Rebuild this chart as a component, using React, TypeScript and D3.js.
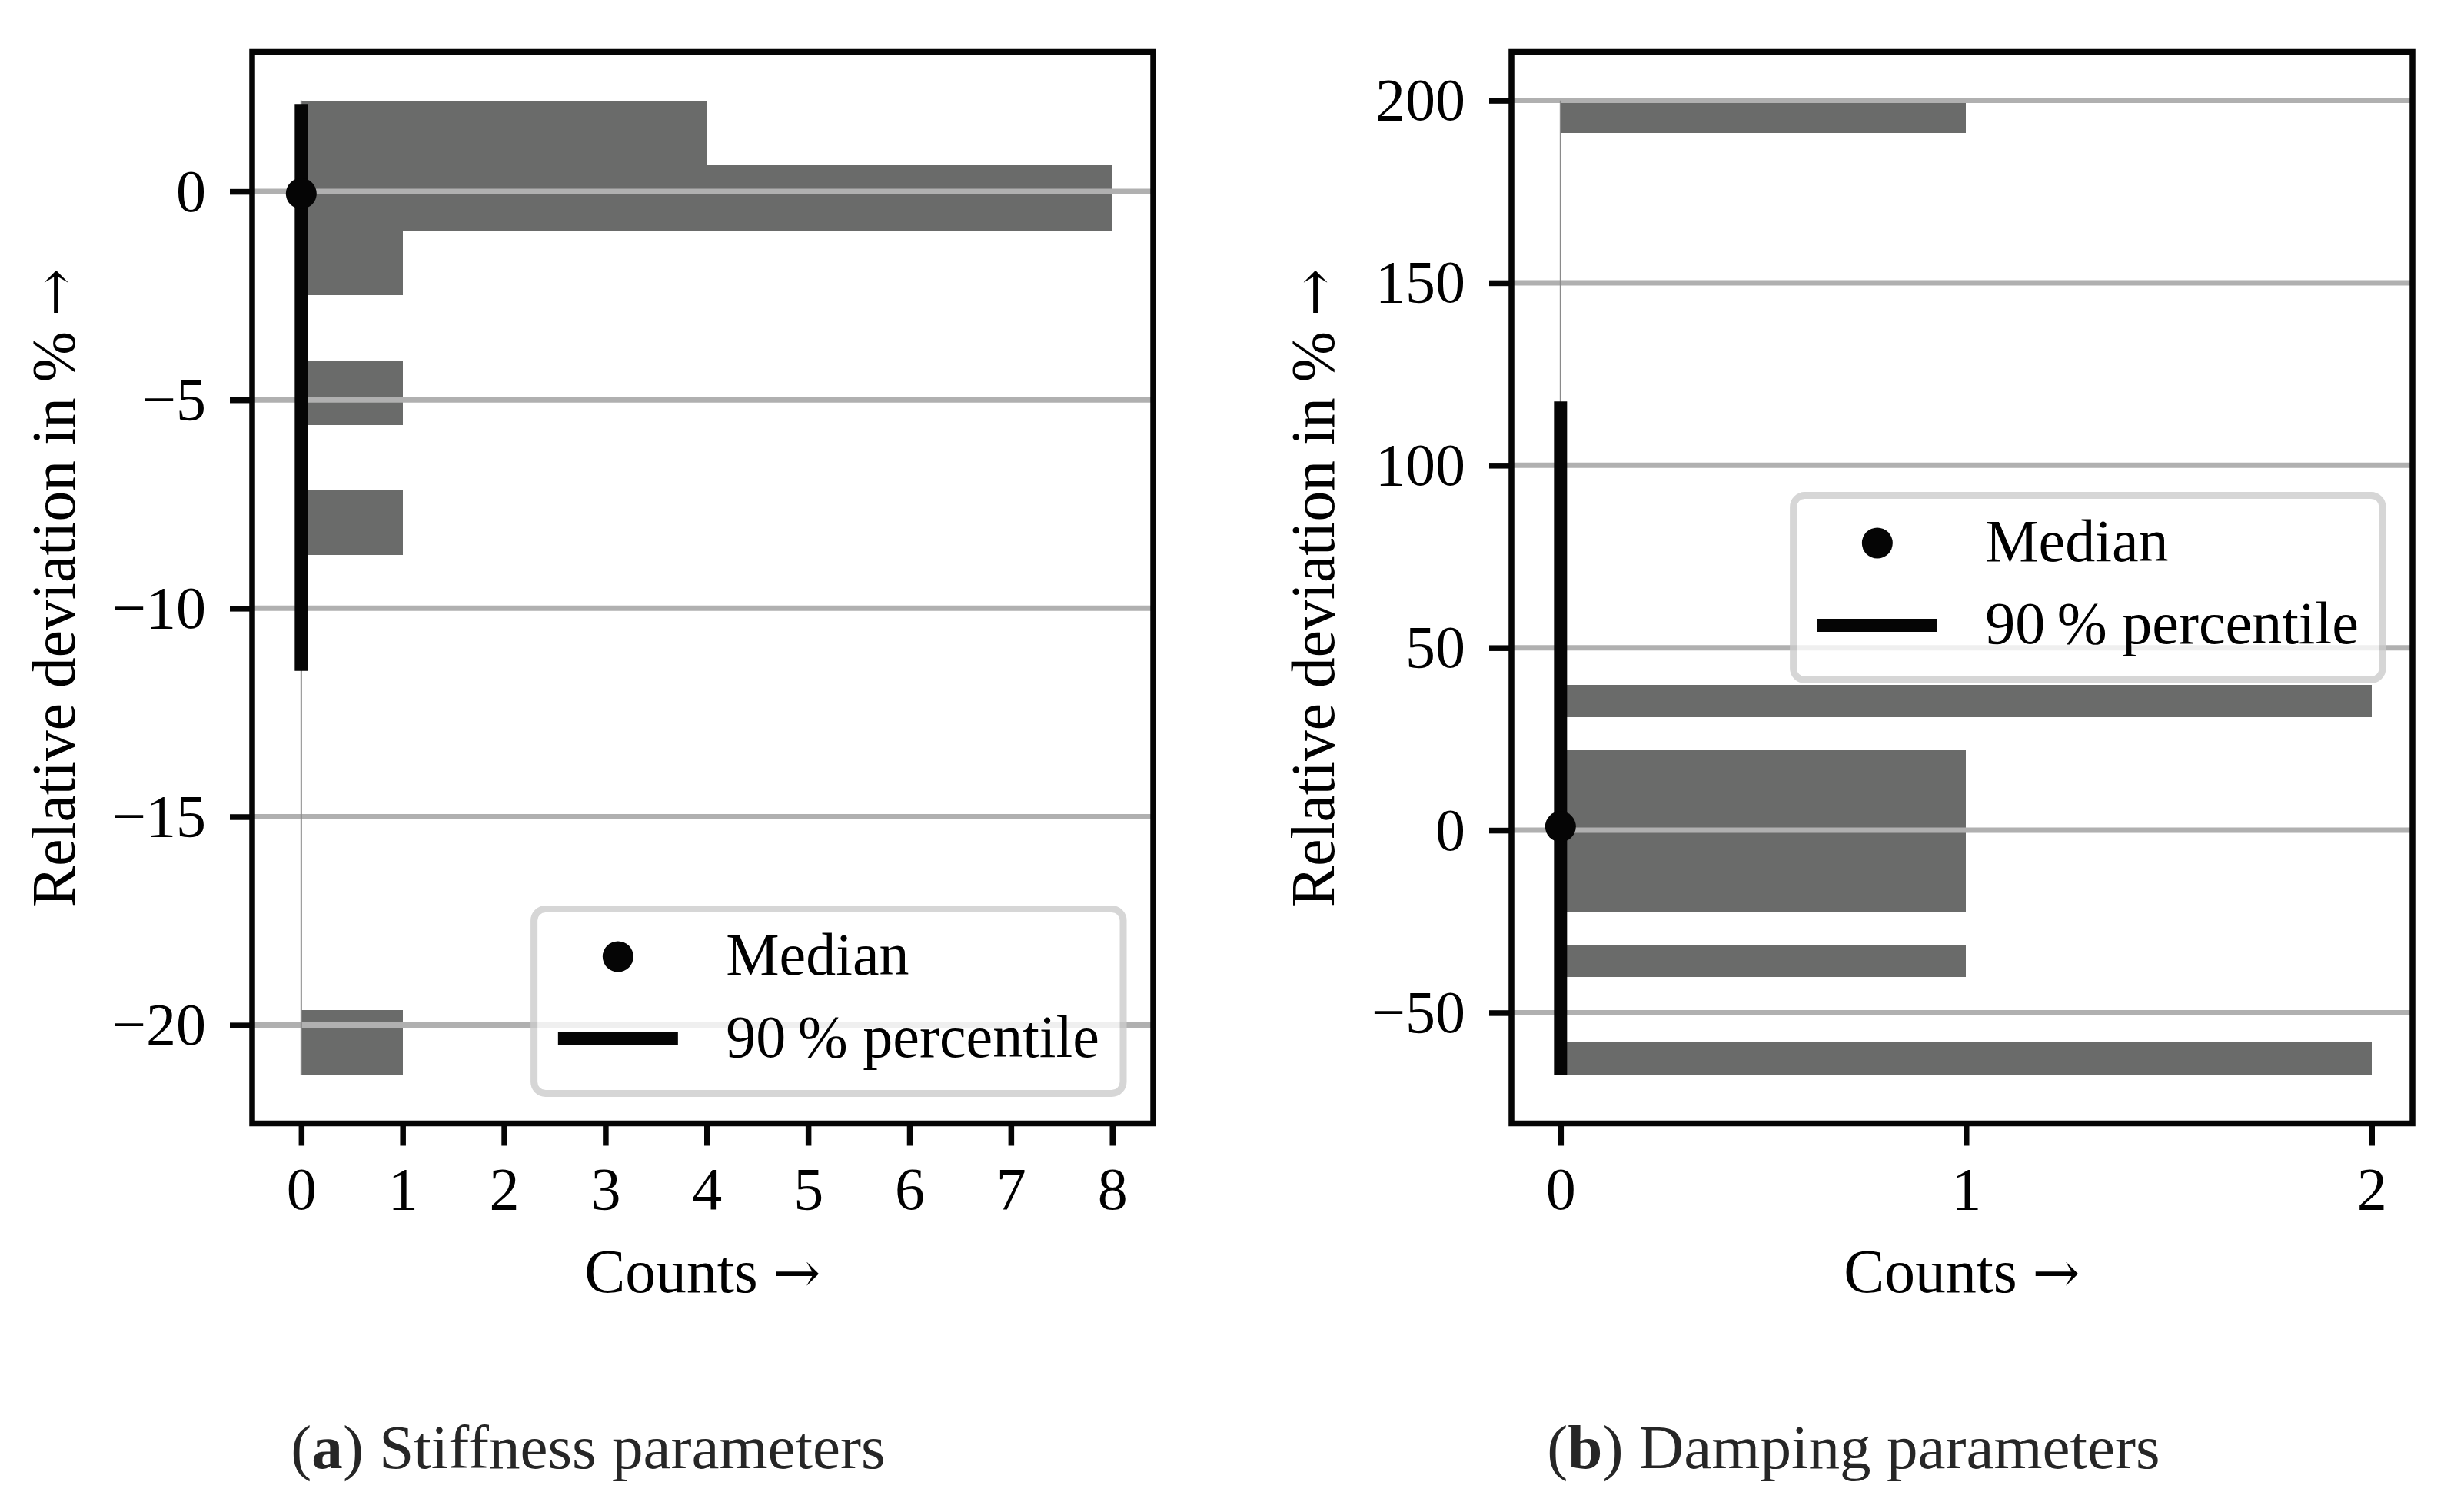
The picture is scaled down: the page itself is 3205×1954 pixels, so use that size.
import { useEffect, useRef } from 'react';
import * as d3 from 'd3';

const W = 3205;
const H = 1954;
const FONT = "'Liberation Serif', 'Times New Roman', serif";
const ARROW_FONT = "'DejaVu Serif', serif";
const FS = 78;

// (a) stiffness parameters: histogram bin edges (relative deviation in %) and counts
const STIFF_EDGES = [-21.19, -19.63, -18.07, -16.52, -14.96, -13.40, -11.84, -10.28, -8.72, -7.17, -5.61, -4.05, -2.49, -0.94, 0.62, 2.18];
const STIFF_COUNTS = [1, 0, 0, 0, 0, 0, 0, 0, 1, 0, 1, 0, 1, 8, 4];
const STIFF_MEDIAN = -0.05;
const STIFF_PERCENTILE = [-11.5, 2.1];
const STIFF_RANGE = [-21.19, 2.18];
const STIFF_X_TICKS = [0, 1, 2, 3, 4, 5, 6, 7, 8];
const STIFF_Y_TICKS = [-20, -15, -10, -5, 0];

// (b) damping parameters
const DAMP_EDGES = [
  -67.0, -58.10, -49.20, -40.31, -31.41, -22.51, -13.61, -4.71, 4.18, 13.08, 21.98,
  30.88, 39.78, 48.67, 57.57, 66.47, 75.37, 84.27, 93.16, 102.06, 110.96,
  119.86, 128.76, 137.65, 146.55, 155.45, 164.35, 173.25, 182.14, 191.04, 199.94,
];
const DAMP_COUNTS = [2, 0, 0, 1, 0, 1, 1, 1, 1, 1, 0, 2, 0, 0, 0, 0, 0, 0, 0, 0, 0, 0, 0, 0, 0, 0, 0, 0, 0, 1];
const DAMP_MEDIAN = 1.0;
const DAMP_PERCENTILE = [-67.0, 117.5];
const DAMP_RANGE = [-67.0, 199.94];
const DAMP_X_TICKS = [0, 1, 2];
const DAMP_Y_TICKS = [-50, 0, 50, 100, 150, 200];

const LEGEND_LABELS = ['Median', '90\u2009% percentile'];

interface Panel {
  edges: number[];
  counts: number[];
  median: number;
  percentile: number[];
  range: number[];
  xTicks: number[];
  yTicks: number[];
  left: number;
  right: number;
  legendPos: 'lower right' | 'center right';
  caption: [string, string];
  captionX: number;
}

const TOP = 67.5;
const BOTTOM = 1461.5;

const PANELS: Panel[] = [
  {
    edges: STIFF_EDGES, counts: STIFF_COUNTS, median: STIFF_MEDIAN, percentile: STIFF_PERCENTILE,
    range: STIFF_RANGE, xTicks: STIFF_X_TICKS, yTicks: STIFF_Y_TICKS,
    left: 328, right: 1500, legendPos: 'lower right', caption: ['a', 'Stiffness parameters'], captionX: 765,
  },
  {
    edges: DAMP_EDGES, counts: DAMP_COUNTS, median: DAMP_MEDIAN, percentile: DAMP_PERCENTILE,
    range: DAMP_RANGE, xTicks: DAMP_X_TICKS, yTicks: DAMP_Y_TICKS,
    left: 1966, right: 3138, legendPos: 'center right', caption: ['b', 'Damping parameters'], captionX: 2411,
  },
];

// label text followed by a wider math-style arrow
function arrowLabel(t: d3.Selection<SVGTextElement, unknown, null, undefined>, label: string) {
  t.append('tspan').text(`${label} `);
  t.append('tspan').attr('font-family', ARROW_FONT).attr('font-size', FS * 0.95).text('\u2192');
}

function drawPanel(svg: d3.Selection<SVGSVGElement, unknown, null, undefined>, p: Panel) {
  const maxC = d3.max(p.counts) ?? 1;
  const xLo = -0.01 * maxC;
  const xPad = 0.05 * (maxC - xLo);
  const yLo = p.edges[0];
  const yHi = p.edges[p.edges.length - 1];
  const yPad = 0.05 * (yHi - yLo);

  const x = d3.scaleLinear().domain([xLo - xPad, maxC + xPad]).range([p.left, p.right]);
  const y = d3.scaleLinear().domain([yLo - yPad, yHi + yPad]).range([BOTTOM, TOP]);

  const g = svg.append('g');

  const bins = p.counts
    .map((c, i) => ({ lo: p.edges[i], hi: p.edges[i + 1], c }))
    .filter((b) => b.c > 0);

  g.selectAll('rect.bar').data(bins).join('rect')
    .attr('class', 'bar')
    .attr('x', x(0))
    .attr('width', (d) => x(d.c) - x(0))
    .attr('y', (d) => y(d.hi))
    .attr('height', (d) => y(d.lo) - y(d.hi))
    .attr('fill', '#6a6b6a')
    .attr('shape-rendering', 'crispEdges');

  // grid sits on top of the bars
  g.selectAll('line.grid').data(p.yTicks).join('line')
    .attr('class', 'grid')
    .attr('x1', p.left).attr('x2', p.right)
    .attr('y1', (d) => y(d)).attr('y2', (d) => y(d))
    .attr('stroke', '#b0b0b0').attr('stroke-width', 7);

  // full range (thin) and 90 % band (thick)
  g.append('line')
    .attr('x1', x(0)).attr('x2', x(0))
    .attr('y1', y(p.range[0])).attr('y2', y(p.range[1]))
    .attr('stroke', '#8a8a8a').attr('stroke-width', 2);
  g.append('line')
    .attr('x1', x(0)).attr('x2', x(0))
    .attr('y1', y(p.percentile[0])).attr('y2', y(p.percentile[1]))
    .attr('stroke', '#050505').attr('stroke-width', 17);
  g.append('circle')
    .attr('cx', x(0)).attr('cy', y(p.median)).attr('r', 20)
    .attr('fill', '#050505');

  // axes
  const xAxis = g.append('g').attr('transform', `translate(0,${BOTTOM})`)
    .call(d3.axisBottom(x).tickValues(p.xTicks).tickSize(29).tickPadding(27).tickFormat(d3.format('d')));
  const yAxis = g.append('g').attr('transform', `translate(${p.left},0)`)
    .call(d3.axisLeft(y).tickValues(p.yTicks).tickSize(29).tickPadding(31));
  [xAxis, yAxis].forEach((a) => {
    a.attr('font-family', FONT).attr('font-size', FS);
    a.select('.domain').remove();
    a.selectAll('.tick line').attr('stroke', '#050505').attr('stroke-width', 7.5);
    a.selectAll('.tick text').attr('fill', '#000');
  });

  // spines
  g.append('rect')
    .attr('x', p.left).attr('y', TOP)
    .attr('width', p.right - p.left).attr('height', BOTTOM - TOP)
    .attr('fill', 'none').attr('stroke', '#050505').attr('stroke-width', 7.5);

  // axis labels
  const yl = g.append('text')
    .attr('transform', `translate(${p.left - 231},${(TOP + BOTTOM) / 2}) rotate(-90)`)
    .attr('text-anchor', 'middle').attr('font-family', FONT).attr('font-size', FS * 1.02);
  arrowLabel(yl, 'Relative deviation in %');
  const xl = g.append('text')
    .attr('x', (p.left + p.right) / 2).attr('y', 1681)
    .attr('text-anchor', 'middle').attr('font-family', FONT).attr('font-size', FS * 1.02);
  arrowLabel(xl, 'Counts');

  // legend
  const pad = 0.4 * FS;
  const handleLen = 2 * FS;
  const handleGap = 0.8 * FS;
  const lg = g.append('g');
  const frame = lg.append('rect');
  const texts = lg.selectAll('text').data(LEGEND_LABELS).join('text')
    .attr('font-family', FONT).attr('font-size', FS).attr('fill', '#000')
    .text((d) => d);
  let textW = 0;
  texts.each(function () {
    textW = Math.max(textW, (this as SVGTextElement).getComputedTextLength());
  });
  const lw = 2 * pad + handleLen + handleGap + textW;
  const lh = 240;
  const lx = p.right - 0.5 * FS - lw;
  const ly = p.legendPos === 'lower right' ? BOTTOM - 0.5 * FS - lh : (TOP + BOTTOM) / 2 - lh / 2;
  frame
    .attr('x', lx).attr('y', ly).attr('width', lw).attr('height', lh)
    .attr('rx', 15).attr('ry', 15)
    .attr('fill', '#fff').attr('stroke', '#cccccc').attr('stroke-width', 9)
    .attr('opacity', 0.8);
  const rowY = (i: number) => ly + 62 + i * 107;
  texts
    .attr('x', lx + pad + handleLen + handleGap)
    .attr('y', (_d, i) => rowY(i) + 23);
  lg.append('circle')
    .attr('cx', lx + pad + handleLen / 2).attr('cy', rowY(0)).attr('r', 20)
    .attr('fill', '#050505');
  lg.append('line')
    .attr('x1', lx + pad).attr('x2', lx + pad + handleLen)
    .attr('y1', rowY(1)).attr('y2', rowY(1))
    .attr('stroke', '#050505').attr('stroke-width', 17);

  // caption
  const cap = g.append('text')
    .attr('x', p.captionX).attr('y', 1910)
    .attr('text-anchor', 'middle').attr('font-family', FONT).attr('font-size', FS * 1.04)
    .attr('fill', '#262626');
  cap.append('tspan').text('(');
  cap.append('tspan').attr('font-weight', 'bold').text(p.caption[0]);
  cap.append('tspan').text(`) ${p.caption[1]}`);
}

export default function App() {
  const svgRef = useRef<SVGSVGElement>(null);

  useEffect(() => {
    const el = svgRef.current;
    if (!el) return;
    const svg = d3.select(el);
    svg.selectAll('*').remove();
    svg.append('rect').attr('width', W).attr('height', H).attr('fill', '#fff');
    PANELS.forEach((p) => drawPanel(svg, p));
  }, []);

  return (
    <svg
      ref={svgRef}
      width={W}
      height={H}
      style={{ position: 'absolute', left: 0, top: 0, display: 'block' }}
    />
  );
}
